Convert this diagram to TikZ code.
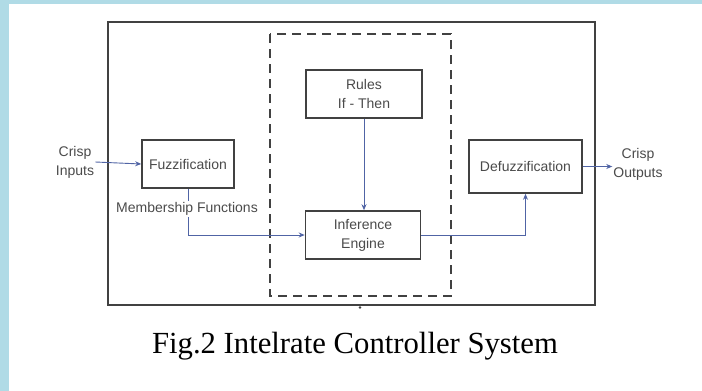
\documentclass[tikz,border=0pt]{standalone}
\usepackage{fontspec}
\setmainfont{Liberation Serif}
\newfontfamily\labfont{Liberation Sans}
\usetikzlibrary{arrows.meta}
\definecolor{bgblue}{RGB}{176,219,230}
\definecolor{conblue}{RGB}{80,100,165}
\definecolor{boxgray}{RGB}{65,65,65}
\definecolor{txtgray}{RGB}{75,75,75}
\tikzset{
  blk/.style={draw=boxgray, line width=1.6pt, fill=white, inner sep=0pt,
    font=\labfont\fontsize{14}{19}\selectfont, text=txtgray, align=center},
  lab/.style={font=\labfont\fontsize{14}{19}\selectfont, text=txtgray, align=center, inner sep=1pt},
  con/.style={draw=conblue, line width=0.9pt, -{Stealth[length=6pt,width=5pt]}},
}
\begin{document}
\begin{tikzpicture}[x=1pt,y=-1pt]
\useasboundingbox (0,0) rectangle (702,391);
\fill[bgblue] (0,0) rectangle (702,391);
\fill[white] (9,4) rectangle (702,391);
% outer frame
\draw[boxgray, line width=1.8pt] (108,22) rectangle (595,305);
\fill[boxgray] (360,307.5) circle (1.4pt);
% dashed inference group
\draw[boxgray, line width=1.7pt, dash pattern=on 9pt off 6pt] (270,34) rectangle (451,296);
% blocks
\node[blk, minimum width=92pt, minimum height=48pt] (fuzz) at (188,164) {Fuzzification};
\node[blk, minimum width=116pt, minimum height=48pt] (rules) at (364,94) {Rules\\If - Then};
\node[blk, minimum width=115pt, minimum height=48pt] (inf) at (363,235) {Inference\\Engine};
\node[blk, minimum width=113pt, minimum height=53pt] (defuzz) at (525.5,166.5) {Defuzzification};
% texts
\node[lab] (in) at (75,162) {Crisp\\Inputs};
\node[lab] (out) at (638,164) {Crisp\\Outputs};
% connectors
\draw[con] (in.east) -- (fuzz.west);
\draw[con] (fuzz.south) |- (inf.west);
\node[lab, fill=white] (mf) at (187,209) {Membership Functions};
\draw[con] (rules.south) -- (rules.south |- inf.north);
\draw[con] (inf.east) -| (defuzz.south);
\draw[con] (defuzz.east) -- (defuzz.east -| out.west);
% caption
\node[anchor=base, font=\fontsize{30.7}{34}\selectfont, text=black, inner sep=0pt] (cap) at (355,353) {Fig.2 Intelrate Controller System};
\end{tikzpicture}
\end{document}
